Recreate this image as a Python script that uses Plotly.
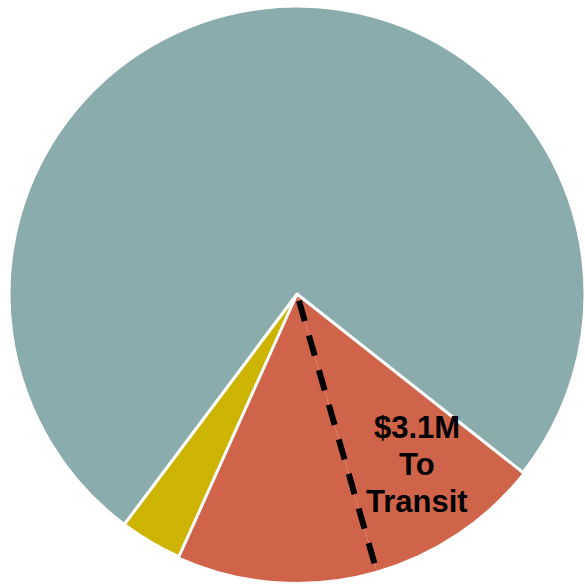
import math
import plotly.graph_objects as go

# Data (millions of dollars)
labels = ["To Transit", "Other (red)", "Other (yellow)", "Remainder"]
values = [3.1, 3.5, 1.1, 23.6]
colors = ["#D0644A", "#D0644A", "#CDB400", "#8AACAC"]
line_widths = [0, 0, 3, 3]
label_lines = ["$3.1M", "To", "Transit"]

W = H = 585
rotation = 128.3

# pie geometry in pixels
cx_px, cy_px, r_px = 297, 294, 288
dom_x = [(cx_px - r_px) / W, (cx_px + r_px) / W]
dom_y = [1 - (cy_px + r_px) / H, 1 - (cy_px - r_px) / H]

fig = go.Figure(go.Pie(
    labels=labels,
    values=values,
    sort=False,
    direction="clockwise",
    rotation=rotation,
    marker=dict(colors=colors, line=dict(color="white", width=line_widths)),
    textinfo="none",
    hoverinfo="skip",
    showlegend=False,
    domain=dict(x=dom_x, y=dom_y),
))

# dashed divider at end of transit portion (from data)
total = sum(values)
theta = math.radians(rotation + 360 * values[0] / total)
cxp, cyp = cx_px / W, 1 - cy_px / H
rp = r_px / W
x0 = cxp + 0.025 * rp * math.sin(theta)
y0 = cyp + 0.025 * rp * math.cos(theta)
x1 = cxp + 1.0 * rp * math.sin(theta)
y1 = cyp + 1.0 * rp * math.cos(theta)

fig.add_shape(type="line", xref="paper", yref="paper",
              x0=x0, y0=y0, x1=x1, y1=y1,
              line=dict(color="black", width=6, dash="21px,15px"))

line_y_px = [427, 464, 502]
for txt, ypx in zip(label_lines, line_y_px):
    fig.add_annotation(x=417 / W, y=1 - ypx / H, xref="paper", yref="paper",
                       text="<b>" + txt + "</b>", showarrow=False,
                       font=dict(family="Liberation Sans, Arial", size=31, color="black"),
                       xanchor="center", yanchor="middle", align="center")

fig.update_layout(width=W, height=H, margin=dict(l=0, r=0, t=0, b=0),
                  paper_bgcolor="white", plot_bgcolor="white")

fig.write_html("out.html")
